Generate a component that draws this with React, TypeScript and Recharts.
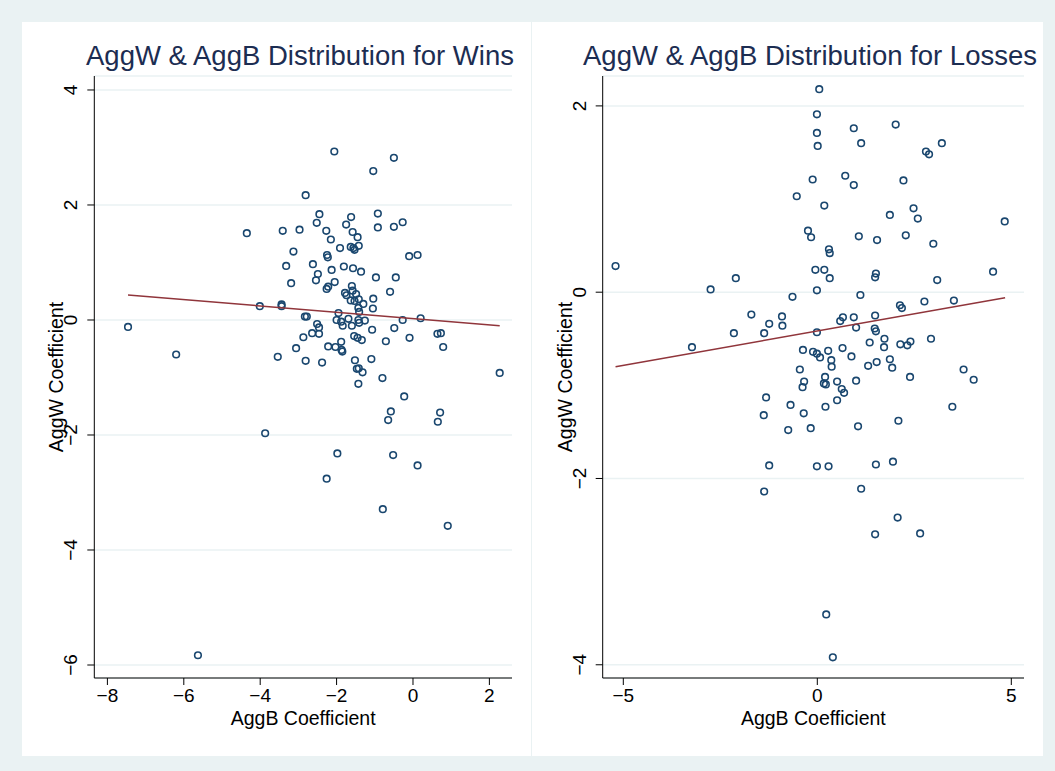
import React from "react";
import { ScatterChart, Scatter, XAxis, YAxis, CartesianGrid, Label } from "recharts";

// Wins panel: AggB (x) and AggW (y) coefficients
const winsAggB = [
  -2.06, -0.5, -1.04, -2.81, -2.45, -0.92, -1.62, -2.52, -1.75, -0.27, -0.92, -0.5,
  -4.35, -3.41, -2.97, -2.27, -1.58, -1.45, -2.15, -3.13, -1.91, -1.63, -1.56, -1.53,
  -1.42, -2.25, -2.23, -0.1, 0.12, -3.32, -2.62, -2.13, -1.81, -1.57, -1.36, -2.49,
  -0.97, -0.45, -2.54, -3.19, -2.05, -1.6, -2.22, -2.26, -1.58, -0.6, -1.78, -1.74,
  -1.49, -1.42, -1.63, -1.53, -1.3, -1.04, -1.43, -1.05, -4.01, -3.44, -3.44, -1.95,
  -1.41, -2.83, -2.78, -2.0, -1.88, -1.69, -1.43, -1.41, -1.26, -2.51, -2.46, -1.84,
  -1.6, -0.27, 0.2, -0.49, -1.07, -2.64, -2.46, -2.87, -1.54, -1.45, -1.34, -1.88,
  -0.71, -0.09, -3.06, -2.22, -2.03, -1.87, -1.85, -3.54, -2.81, -2.38, -1.52, -1.09,
  -1.47, -1.42, -1.32, -0.8, -1.43, -0.23, -0.58, -0.65, -3.87, -1.98, -0.52, 0.12,
  -2.26, -0.79, 0.91, -7.46, -6.2, -5.63, 0.64, 0.73, 0.79, 2.27, 0.71, 0.65,
];
const winsAggW = [
  2.93, 2.82, 2.59, 2.17, 1.84, 1.85, 1.79, 1.69, 1.66, 1.7, 1.61, 1.62,
  1.51, 1.55, 1.57, 1.55, 1.53, 1.44, 1.4, 1.19, 1.25, 1.27, 1.25, 1.22,
  1.29, 1.13, 1.09, 1.11, 1.13, 0.94, 0.97, 0.87, 0.93, 0.9, 0.84, 0.8,
  0.74, 0.74, 0.69, 0.64, 0.66, 0.59, 0.58, 0.54, 0.51, 0.49, 0.47, 0.43,
  0.45, 0.36, 0.34, 0.33, 0.28, 0.37, 0.21, 0.2, 0.24, 0.27, 0.24, 0.12,
  0.14, 0.06, 0.06, 0.0, -0.03, 0.02, 0.0, -0.05, -0.01, -0.07, -0.13, -0.1,
  -0.1, 0.0, 0.03, -0.14, -0.17, -0.23, -0.24, -0.3, -0.28, -0.31, -0.35, -0.38,
  -0.37, -0.31, -0.49, -0.46, -0.47, -0.52, -0.55, -0.64, -0.71, -0.74, -0.7, -0.68,
  -0.85, -0.84, -0.91, -1.01, -1.11, -1.33, -1.59, -1.74, -1.97, -2.32, -2.35, -2.53,
  -2.76, -3.29, -3.58, -0.12, -0.6, -5.83, -0.24, -0.23, -0.47, -0.92, -1.61, -1.77,
];

// Losses panel
const lossesAggB = [
  0.05, -0.01, 2.02, 0.94, -0.01, 1.13, 0.01, -0.12, 0.72, 0.94, -0.53, 0.18,
  1.87, -0.24, -0.16, 1.07, 1.54, 0.3, 0.32, -0.05, 0.18, 1.51, 1.49, 0.32,
  -2.1, -2.75, -0.01, 1.11, -0.64, -1.7, -0.91, -1.24, -0.9, -2.15, -1.37, 0.66,
  0.59, 0.94, 1.0, 1.49, 1.48, 1.51, -0.01, -3.23, -0.37, -0.11, -0.01, 0.07,
  0.28, 0.65, 0.88, 1.35, 1.73, 1.72, 0.36, 0.37, 1.31, 1.53, 1.87, 1.93,
  -0.45, -0.34, -0.38, 0.2, 0.17, 0.22, 0.51, 1.0, 0.63, 0.69, 0.51, -1.32,
  -0.69, 0.21, -0.35, -1.38, 2.09, -0.75, -0.17, 1.05, -5.2, 2.22, 2.48, 2.59,
  4.83, 2.28, 2.99, 4.53, 3.09, 2.13, 2.18, 2.76, 3.52, 2.14, 2.32, 2.4,
  2.93, 2.39, 3.77, 4.03, 3.48, 1.95, -1.24, -0.01, 0.29, 1.51, -1.37, 1.13,
  2.07, 1.49, 2.65, 0.23, 0.4, 2.8, 2.88, 3.21,
];
const lossesAggW = [
  2.18, 1.91, 1.8, 1.76, 1.71, 1.6, 1.57, 1.21, 1.25, 1.15, 1.03, 0.93,
  0.83, 0.66, 0.59, 0.6, 0.56, 0.46, 0.42, 0.24, 0.24, 0.2, 0.16, 0.15,
  0.15, 0.03, 0.02, -0.03, -0.05, -0.24, -0.26, -0.34, -0.36, -0.44, -0.44, -0.27,
  -0.31, -0.27, -0.38, -0.25, -0.39, -0.42, -0.43, -0.59, -0.62, -0.64, -0.66, -0.7,
  -0.63, -0.6, -0.69, -0.54, -0.5, -0.59, -0.73, -0.8, -0.79, -0.75, -0.72, -0.81,
  -0.83, -0.96, -1.02, -0.91, -0.98, -0.99, -0.96, -0.95, -1.04, -1.08, -1.16, -1.13,
  -1.21, -1.23, -1.3, -1.32, -1.38, -1.48, -1.46, -1.44, 0.28, 1.2, 0.9, 0.79,
  0.76, 0.61, 0.52, 0.22, 0.13, -0.14, -0.17, -0.1, -0.09, -0.56, -0.57, -0.53,
  -0.5, -0.91, -0.83, -0.94, -1.23, -1.82, -1.86, -1.87, -1.87, -1.85, -2.14, -2.11,
  -2.42, -2.6, -2.59, -3.46, -3.92, 1.51, 1.48, 1.6,
];

// fitted lines (endpoints)
const winsFitB = [-7.46, 2.27];
const winsFitW = [0.435, -0.1];
const lossesFitB = [-5.2, 4.84];
const lossesFitW = [-0.8, -0.06];

const winsXTicks = [-8, -6, -4, -2, 0, 2];
const winsYTicks = [-6, -4, -2, 0, 2, 4];
const lossesXTicks = [-5, 0, 5];
const lossesYTicks = [-4, -2, 0, 2];

const zip = (xs: number[], ys: number[]) => xs.map((x, i) => ({ x, y: ys[i] }));

const fmt = (v: number) => (v < 0 ? `\u2212${Math.abs(v)}` : `${v}`);

const FONT = "'Liberation Sans', Arial, Helvetica, sans-serif";

const Dot = (p: any) => (
  <circle cx={p.cx} cy={p.cy} r={3.3} fill="none" stroke="#1a476f" strokeWidth={1.6} />
);

const YTick = (p: any) => (
  <text
    transform={`translate(${p.x - 8},${p.y}) rotate(-90)`}
    textAnchor="middle"
    fontSize={19}
    fill="#000"
  >
    {fmt(p.payload.value)}
  </text>
);

const XTitle = (p: any) => {
  const { x, y, width } = p.viewBox;
  return (
    <text x={x + width / 2} y={y + 47} textAnchor="middle" fontSize={19.5} fill="#000">
      AggB Coefficient
    </text>
  );
};

const YTitle = (p: any) => {
  const { x, y, width, height } = p.viewBox;
  return (
    <text
      transform={`translate(${x + width - 31},${y + height / 2}) rotate(-90)`}
      textAnchor="middle"
      fontSize={19.5}
      fill="#000"
    >
      AggW Coefficient
    </text>
  );
};

const Panel = ({
  left,
  width,
  marginLeft,
  marginRight,
  points,
  fit,
  xDomain,
  yDomain,
  xTicks,
  yTicks,
}: any) => (
  <div style={{ position: "absolute", left, top: 22 }}>
    <ScatterChart
      width={width}
      height={734}
      margin={{ top: 54, right: marginRight, bottom: 18, left: marginLeft }}
    >
      <CartesianGrid vertical={false} stroke="#eaf2f3" strokeWidth={1.5} />
      <XAxis
        type="number"
        dataKey="x"
        domain={xDomain}
        allowDataOverflow
        ticks={xTicks}
        interval={0}
        tickFormatter={fmt}
        tickSize={7}
        tickMargin={4}
        height={60}
        axisLine={{ stroke: "#000" }}
        tickLine={{ stroke: "#000" }}
        tick={{ fill: "#000", fontSize: 19 }}
      >
        <Label content={XTitle} />
      </XAxis>
      <YAxis
        type="number"
        dataKey="y"
        domain={yDomain}
        allowDataOverflow
        ticks={yTicks}
        interval={0}
        width={50}
        tickSize={7}
        axisLine={{ stroke: "#000" }}
        tickLine={{ stroke: "#000" }}
        tick={YTick}
      >
        <Label content={YTitle} />
      </YAxis>
      <Scatter data={points} shape={Dot} isAnimationActive={false} />
      <Scatter
        data={fit}
        line={{ stroke: "#90353b", strokeWidth: 1.5 }}
        shape={() => <g />}
        isAnimationActive={false}
      />
    </ScatterChart>
  </div>
);

const titleStyle = (center: number): React.CSSProperties => ({
  position: "absolute",
  left: center - 300,
  width: 600,
  top: 42,
  textAlign: "center",
  fontSize: 27.5,
  lineHeight: "27px",
  color: "#1c2d52",
  whiteSpace: "nowrap",
});

export default function App() {
  return (
    <div
      style={{
        position: "absolute",
        left: 0,
        top: 0,
        width: 1055,
        height: 771,
        background: "#eaf2f3",
        fontFamily: FONT,
        overflow: "hidden",
      }}
    >
      <div style={{ position: "absolute", left: 22, top: 22, width: 509, height: 734, background: "#fff" }} />
      <div style={{ position: "absolute", left: 532, top: 22, width: 511, height: 734, background: "#fff" }} />
      <div style={titleStyle(300)}>AggW &amp; AggB Distribution for Wins</div>
      <div style={titleStyle(810)}>AggW &amp; AggB Distribution for Losses</div>
      <Panel
        left={22}
        width={509}
        marginLeft={22.3}
        marginRight={19}
        points={zip(winsAggB, winsAggW)}
        fit={zip(winsFitB, winsFitW)}
        xDomain={[-8.343, 2.592]}
        yDomain={[-6.226, 4.243]}
        xTicks={winsXTicks}
        yTicks={winsYTicks}
      />
      <Panel
        left={532}
        width={511}
        marginLeft={20.7}
        marginRight={19}
        points={zip(lossesAggB, lossesAggW)}
        fit={zip(lossesFitB, lossesFitW)}
        xDomain={[-5.531, 5.327]}
        yDomain={[-4.142, 2.321]}
        xTicks={lossesXTicks}
        yTicks={lossesYTicks}
      />
    </div>
  );
}
